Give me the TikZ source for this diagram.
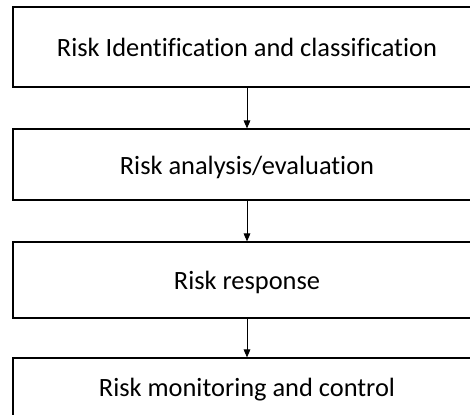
\documentclass[tikz,border=0pt]{standalone}
\usepackage{fontspec}
\setmainfont{Carlito}[Ligatures={NoCommon}]
\usetikzlibrary{arrows.meta}
\begin{document}
\begin{tikzpicture}[x=0.75pt, y=-0.75pt,
  stepbox/.style={draw=black, line width=0.9pt, fill=white, minimum width=351pt, inner sep=0pt,
    text height=15.6pt, text depth=1pt, font=\fontsize{19.8}{23}\selectfont},
  flow/.style={draw=black, line width=0.7pt, -{Triangle[length=6pt, width=5pt]}}]

     \useasboundingbox (0,0) rectangle (470,414);
     \clip (0,0) rectangle (470,414);

     % Cajas del proceso
     \node[stepbox, minimum height=60pt] (ident) at (247,47) {Risk Identification and classification};
     \node[stepbox, minimum height=53.25pt] (analysis) at (247,164.5) {Risk analysis/evaluation};
     \node[stepbox, minimum height=57pt] (response) at (247,280) {Risk response};
     \node[stepbox, minimum height=43.5pt] (monitor) at (247,387) {Risk monitoring and control};

     % Flechas entre cajas
     \draw[flow] (ident) -- (analysis);
     \draw[flow] (analysis) -- (response);
     \draw[flow] (response) -- (monitor);

\end{tikzpicture}
\end{document}
